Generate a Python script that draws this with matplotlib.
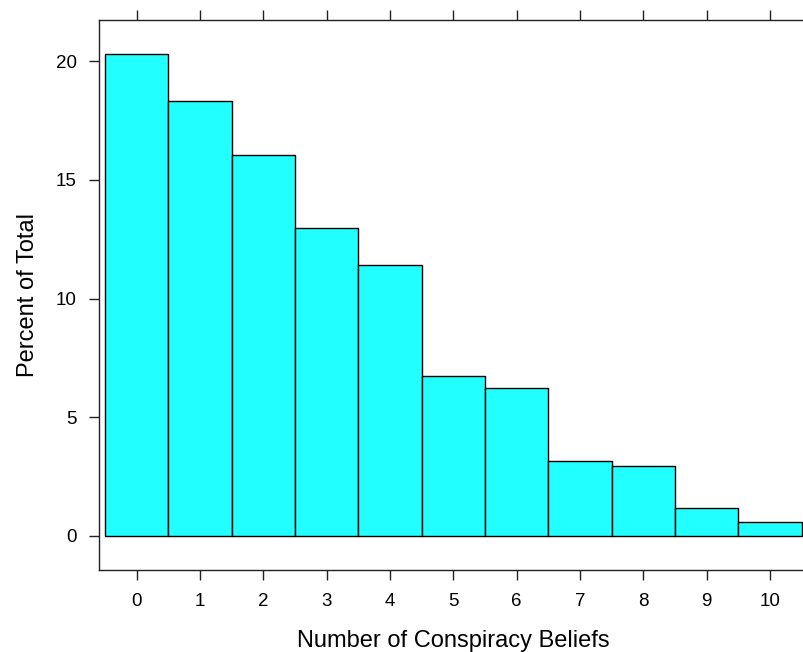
import matplotlib
matplotlib.use("Agg")
import matplotlib.pyplot as plt

plt.rcParams['font.family'] = ['Liberation Sans', 'DejaVu Sans']

beliefs = [0, 1, 2, 3, 4, 5, 6, 7, 8, 9, 10]
percent = [20.31, 18.33, 16.04, 12.96, 11.41, 6.75, 6.23, 3.16, 2.96, 1.18, 0.59]
xticks = [0, 1, 2, 3, 4, 5, 6, 7, 8, 9, 10]
yticks = [0, 5, 10, 15, 20]

W, H = 804, 652
fig = plt.figure(figsize=(W / 100, H / 100), dpi=100)
x0, x1 = 99, 807.7
y0, y1 = 20, 569.7
ax = fig.add_axes([x0 / W, 1 - y1 / H, (x1 - x0) / W, (y1 - y0) / H])

ax.bar(beliefs, percent, width=1.0, align='center', color='#22FFFF',
       edgecolor='black', linewidth=1.0)

ax.set_xlim(-0.595, 10.595)
ax.set_ylim(-1.42, 21.73)
ax.set_xticks(xticks)
ax.set_yticks(yticks)
ax.tick_params(axis='both', direction='out', length=7, width=1.0,
               color='#222222', labelsize=13.5, pad=9)
ax.tick_params(axis='x', top=True, labeltop=False, pad=10)
ax.tick_params(axis='y', right=True, labelright=False)
for s in ax.spines.values():
    s.set_color('#222222')
    s.set_linewidth(1.0)

ax.set_xlabel('Number of Conspiracy Beliefs', fontsize=17, labelpad=14)
ax.set_ylabel('Percent of Total', fontsize=17, labelpad=12)

fig.savefig('out.png', dpi=100)
